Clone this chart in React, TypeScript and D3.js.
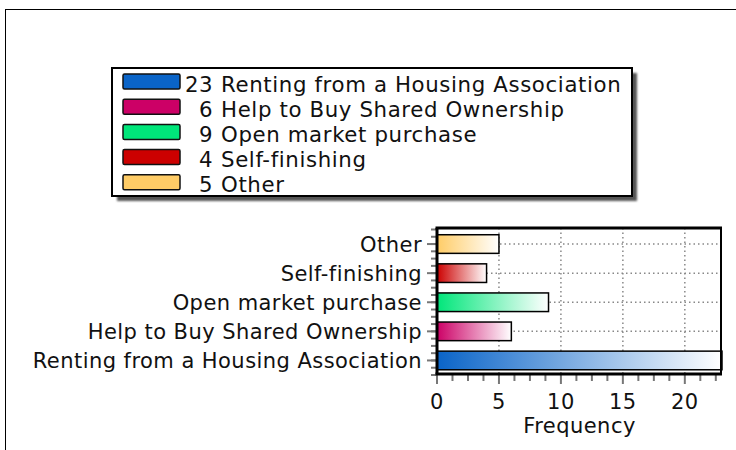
import React from "react";
import * as d3 from "d3";

const categories = [
  "Renting from a Housing Association",
  "Help to Buy Shared Ownership",
  "Open market purchase",
  "Self-finishing",
  "Other",
];
const counts = [23, 6, 9, 4, 5];
const colors = ["#0a64c8", "#cc0066", "#00e67a", "#cc0000", "#ffcc66"];
const xTicks = [0, 5, 10, 15, 20];

const FONT = "Verdana, DejaVu Sans, sans-serif";
const FS = 21;
const LS = 0.45;

export default function App() {
  const W = 736, H = 450;
  const plot = { left: 437, right: 722, top: 228, bottom: 374 };
  const x = d3.scaleLinear().domain([0, 23]).range([plot.left, plot.right]);
  const order = categories.slice().reverse(); // top to bottom: Other ... Renting
  const y = d3
    .scaleBand<string>()
    .domain(order)
    .range([229.5, 375])
    .paddingInner(0.36)
    .paddingOuter(0.18);
  const step = y.step();
  const centers = order.map((c) => (y(c) as number) + y.bandwidth() / 2);
  const minorX = d3.range(0, 23.01, 1.25);
  const yTickBase = centers[0] - step / 2;
  const minorY = d3.range(0, 21).map((i) => yTickBase + (i * step) / 4).filter((v) => v >= plot.top - 1 && v <= plot.bottom + 1);

  const legend = { x: 112, y: 68, w: 520, h: 128 };
  const rowH = 25.2;

  return (
    <svg width={W} height={H} style={{ position: "absolute", left: 0, top: 0, background: "#fff" }} fontFamily={FONT}>
      <defs>
        {categories.map((c, i) => (
          <linearGradient id={`g${i}`} key={c} x1="0" x2="1" y1="0" y2="0">
            <stop offset="0%" stopColor={colors[i]} />
            <stop offset="100%" stopColor="#ffffff" />
          </linearGradient>
        ))}
        <filter id="blur" x="-5%" y="-5%" width="110%" height="115%">
          <feGaussianBlur stdDeviation="1.2" />
        </filter>
      </defs>
      {/* outer frame */}
      <rect x={5.5} y={9.5} width={W + 20} height={H + 20} fill="none" stroke="#000" strokeWidth={1} />

      {/* legend */}
      <rect x={legend.x + 5} y={legend.y + 5} width={legend.w} height={legend.h} fill="#555" filter="url(#blur)" />
      <rect x={legend.x} y={legend.y} width={legend.w} height={legend.h} fill="#fff" stroke="#000" strokeWidth={2} />
      {categories.map((c, i) => {
        const ty = 74 + i * rowH;
        return (
          <g key={c} fontSize={21.3} fill="#111">
            <rect x={123} y={ty} width={57} height={15} rx={1.5} fill={colors[i]} stroke="#111" strokeWidth={1.5} />
            <text x={213} y={ty + 17.5} textAnchor="end" letterSpacing={0.5}>
              {counts[i]}
            </text>
            <text x={221} y={ty + 17.5} letterSpacing={0.62}>
              {c}
            </text>
          </g>
        );
      })}

      {/* grid */}
      {xTicks.slice(1).map((t) => (
        <line key={t} x1={x(t)} x2={x(t)} y1={plot.top} y2={plot.bottom} stroke="#888" strokeWidth={1.5} strokeDasharray="1.5,3" />
      ))}
      {centers.map((cy, i) => (
        <line key={i} x1={plot.left} x2={plot.right} y1={cy} y2={cy} stroke="#888" strokeWidth={1.5} strokeDasharray="1.5,3" />
      ))}

      {/* bars */}
      {categories.map((c, i) => (
        <rect
          key={c}
          x={x(0)}
          y={y(c) as number}
          width={x(counts[i]) - x(0)}
          height={y.bandwidth()}
          fill={`url(#g${i})`}
          stroke="#000"
          strokeWidth={1.5}
        />
      ))}

      {/* x ticks */}
      {minorX.map((t) => (
        <line key={t} x1={x(t)} x2={x(t)} y1={plot.bottom} y2={plot.bottom + (t % 5 === 0 ? 10 : 7)} stroke="#777" strokeWidth={2} />
      ))}
      <g fontSize={FS} letterSpacing={LS} fill="#111">
        {xTicks.map((t) => (
          <text key={t} x={x(t)} y={409} textAnchor="middle">
            {t}
          </text>
        ))}
        <text x={(plot.left + plot.right) / 2} y={433} textAnchor="middle">
          Frequency
        </text>
      </g>

      {/* y ticks */}
      {minorY.map((v, i) => (
        <line key={i} x1={431} x2={plot.left} y1={v} y2={v} stroke="#777" strokeWidth={2} />
      ))}
      {centers.map((cy, i) => (
        <line key={i} x1={427} x2={plot.left} y1={cy} y2={cy} stroke="#777" strokeWidth={2} />
      ))}
      <g fontSize={FS} letterSpacing={LS} fill="#111">
        {order.map((c, i) => (
          <text key={c} x={422} y={centers[i] + 8} textAnchor="end">
            {c}
          </text>
        ))}
      </g>

      {/* plot frame */}
      <line x1={plot.left - 1.5} x2={plot.right} y1={plot.top} y2={plot.top} stroke="#000" strokeWidth={3} />
      <line x1={plot.left} x2={plot.left} y1={plot.top} y2={plot.bottom} stroke="#000" strokeWidth={3} />
      <line x1={plot.right - 1} x2={plot.right - 1} y1={plot.top} y2={plot.bottom} stroke="#000" strokeWidth={2} />
      <line x1={plot.left - 1.5} x2={plot.right} y1={plot.bottom} y2={plot.bottom} stroke="#000" strokeWidth={3} />
    </svg>
  );
}
